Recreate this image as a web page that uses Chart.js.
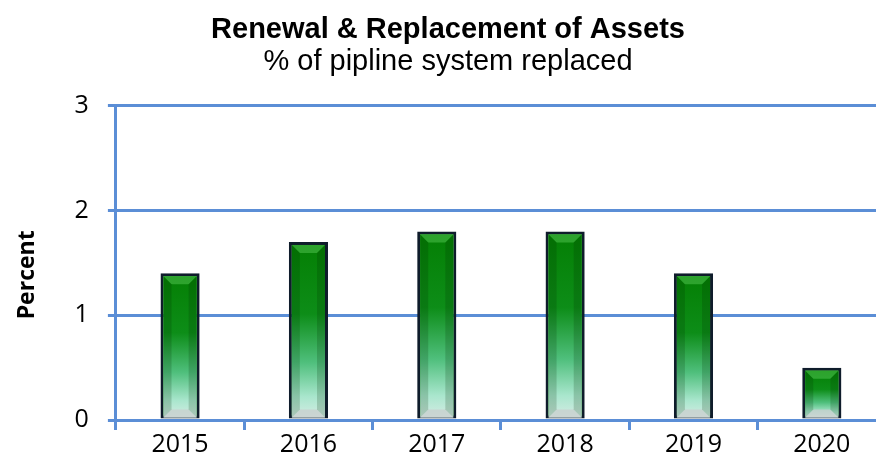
<!DOCTYPE html>
<html>
<head>
<meta charset="utf-8">
<script src="https://cdn.jsdelivr.net/npm/chart.js@4.4.1/dist/chart.umd.min.js"></script>
<style>
    html, body { margin: 0; padding: 0; background: #fff; overflow: hidden; }
    #wrap { width: 906px; height: 468px; }
</style>
</head>
<body>
<div id="wrap"><canvas id="assetsChart"></canvas></div>
<script>
const years = ['2015', '2016', '2017', '2018', '2019', '2020'];
const percentReplaced = [1.4, 1.7, 1.8, 1.8, 1.4, 0.5];
const yTicks = [0, 1, 2, 3];

const axisBlue = '#5b8ed6';

// paints the green gradient and bevelled edges inside each bar outline
const bevelBars = {
    id: 'bevelBars',
    afterDatasetsDraw(chart) {
        const ctx = chart.ctx;
        const meta = chart.getDatasetMeta(0);
        const bw = 3;
        meta.data.forEach(bar => {
            const p = bar.getProps(['x', 'y', 'base', 'width'], true);
            const left = p.x - p.width / 2 + bw;
            const right = p.x + p.width / 2 - bw;
            const top = p.y + bw;
            const bottom = p.base - 1;
            const h = bottom - top;
            if (h <= 0) return;

            const g = ctx.createLinearGradient(0, top, 0, bottom);
            g.addColorStop(0, '#047f04');
            g.addColorStop(0.4, '#0d8d18');
            g.addColorStop(0.68, '#4fbf7c');
            g.addColorStop(0.88, '#a9e6cd');
            g.addColorStop(1, '#d4ece4');
            ctx.save();
            ctx.fillStyle = g;
            ctx.fillRect(left, top, right - left, h);

            const b = Math.min(8, h / 3);
            // top face
            ctx.fillStyle = 'rgba(120,230,120,0.35)';
            ctx.beginPath();
            ctx.moveTo(left, top); ctx.lineTo(right, top);
            ctx.lineTo(right - b, top + b); ctx.lineTo(left + b, top + b);
            ctx.closePath(); ctx.fill();
            // bottom face
            ctx.fillStyle = 'rgba(200,205,205,0.75)';
            ctx.beginPath();
            ctx.moveTo(left, bottom); ctx.lineTo(right, bottom);
            ctx.lineTo(right - b, bottom - b); ctx.lineTo(left + b, bottom - b);
            ctx.closePath(); ctx.fill();
            // side faces
            ctx.fillStyle = 'rgba(0,40,0,0.18)';
            ctx.beginPath();
            ctx.moveTo(left, top); ctx.lineTo(left + b, top + b);
            ctx.lineTo(left + b, bottom - b); ctx.lineTo(left, bottom);
            ctx.closePath(); ctx.fill();
            ctx.beginPath();
            ctx.moveTo(right, top); ctx.lineTo(right - b, top + b);
            ctx.lineTo(right - b, bottom - b); ctx.lineTo(right, bottom);
            ctx.closePath(); ctx.fill();
            ctx.restore();
        });
    }
};

new Chart(document.getElementById('assetsChart'), {
    type: 'bar',
    data: {
        labels: years,
        datasets: [{
            data: percentReplaced,
            backgroundColor: '#0a8a10',
            borderColor: '#0f1c2b',
            borderWidth: 3,
            borderSkipped: false,
            categoryPercentage: 1,
            barPercentage: 0.305
        }]
    },
    options: {
        responsive: true,
        maintainAspectRatio: false,
        animation: false,
        layout: { padding: { top: 14, right: 20, bottom: 8, left: 10 } },
        plugins: {
            legend: { display: false },
            tooltip: { enabled: false },
            title: {
                display: true,
                text: 'Renewal & Replacement of Assets',
                color: '#000',
                font: { family: 'Liberation Sans', size: 29, weight: 'bold', lineHeight: 1.1 },
                padding: { top: 0, bottom: 0 }
            },
            subtitle: {
                display: true,
                text: '% of pipline system replaced',
                color: '#000',
                font: { family: 'Liberation Sans', size: 29, lineHeight: 1.1 },
                padding: { top: 0, bottom: 28 }
            }
        },
        scales: {
            x: {
                grid: {
                    offset: true,
                    drawOnChartArea: false,
                    drawTicks: true,
                    tickLength: 10,
                    color: axisBlue,
                    lineWidth: 3
                },
                border: { display: true, color: axisBlue, width: 3 },
                ticks: {
                    color: '#000',
                    padding: 0,
                    font: { family: 'Open Sans', size: 25 }
                }
            },
            y: {
                min: 0,
                max: 3,
                afterBuildTicks(axis) {
                    axis.ticks = yTicks.map(v => ({ value: v }));
                },
                grid: {
                    color: axisBlue,
                    lineWidth: 3,
                    tickLength: 8
                },
                border: { display: true, color: axisBlue, width: 3 },
                ticks: {
                    color: '#000',
                    padding: 19,
                    font: { family: 'Open Sans', size: 25 }
                },
                title: {
                    display: true,
                    // trailing spaces nudge the rotated label a little lower
                    text: 'Percent    ',
                    color: '#000',
                    padding: { top: 4, bottom: 14 },
                    font: { family: 'Open Sans', size: 23, weight: 'bold', lineHeight: 1.2 }
                }
            }
        }
    },
    plugins: [bevelBars]
});
</script>
</body>
</html>
